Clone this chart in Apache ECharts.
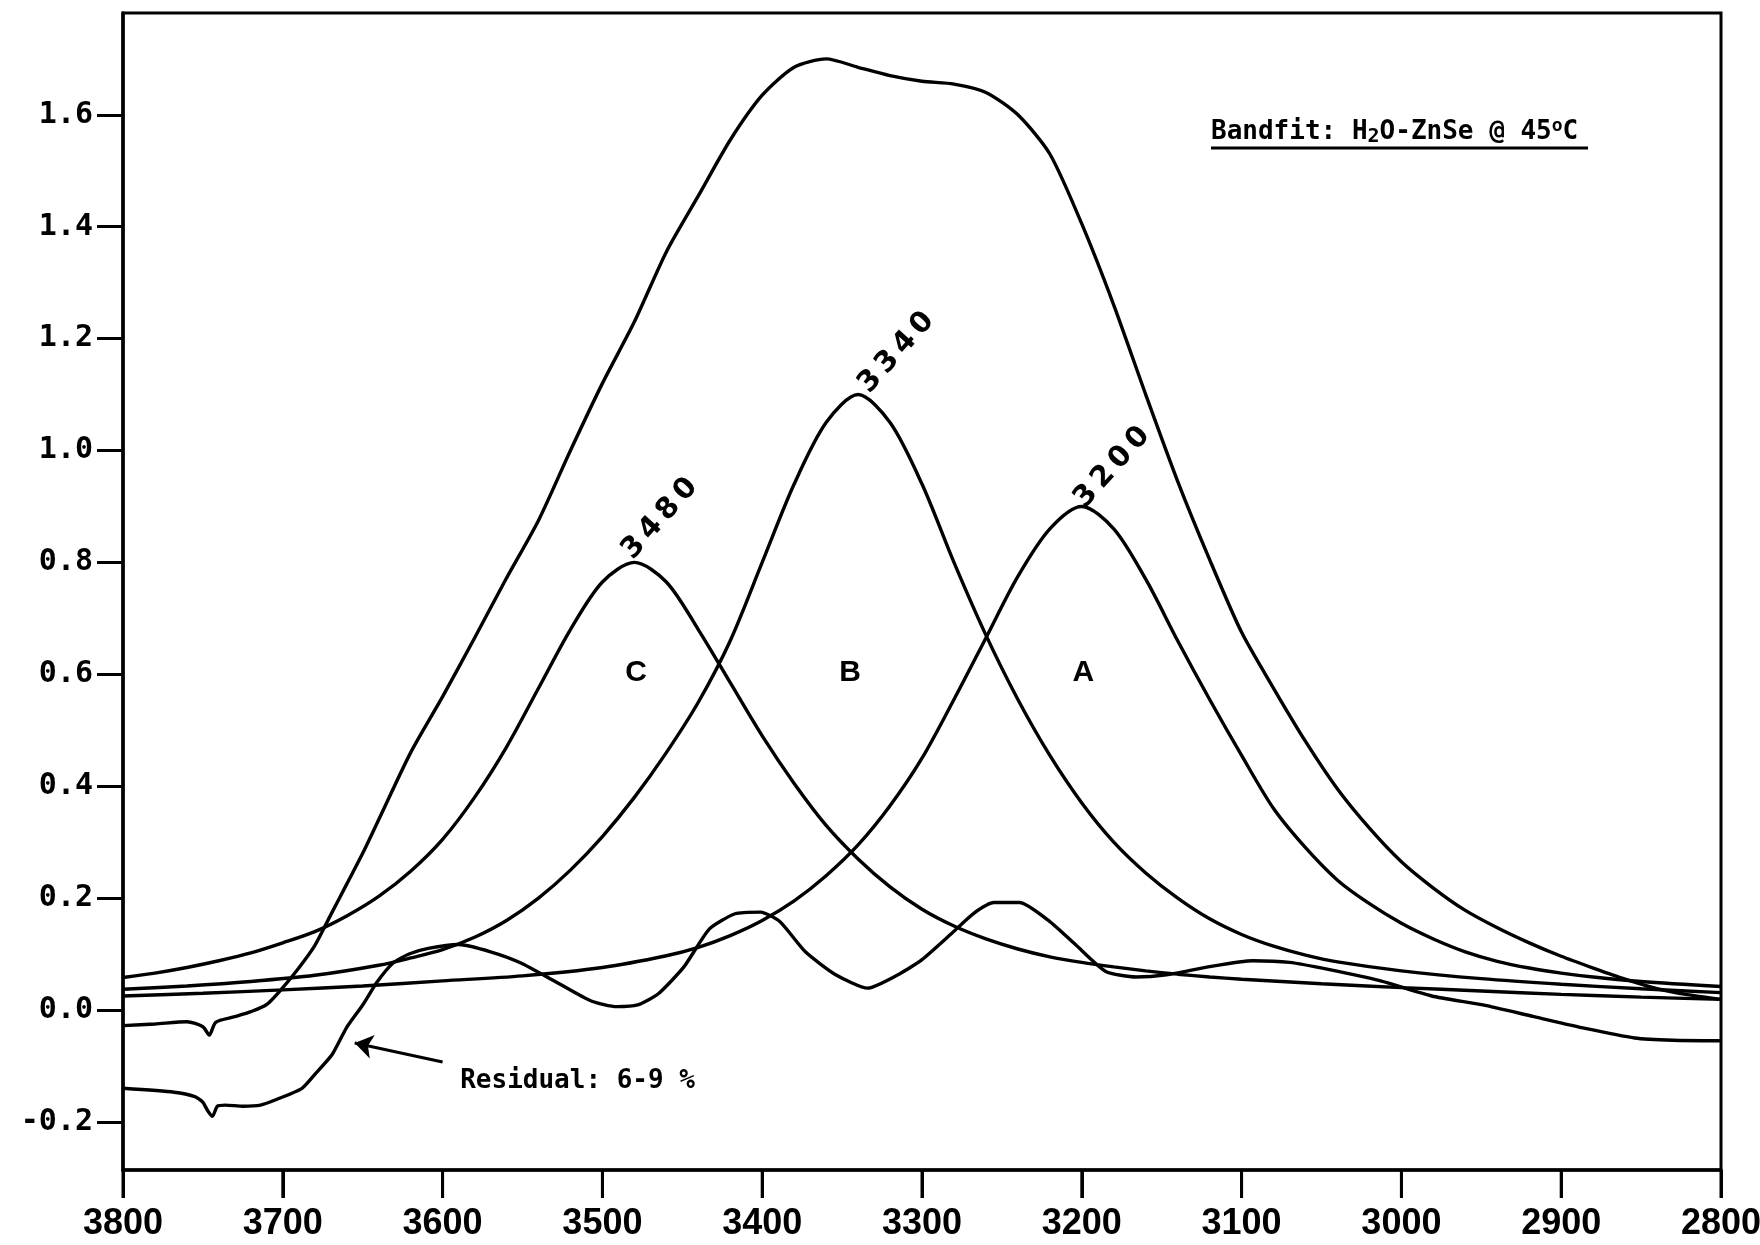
<!DOCTYPE html>
<html>
<head>
<meta charset="utf-8">
<script src="https://cdn.jsdelivr.net/npm/echarts@6/dist/echarts.min.js"></script>
<style>html,body{margin:0;padding:0;background:#fff}#chart{width:1760px;height:1245px}</style>
</head>
<body>
<div id="chart"></div>
<script>
// ---- axis ticks ----
const xTickValues = [3800, 3700, 3600, 3500, 3400, 3300, 3200, 3100, 3000, 2900, 2800];
const yTickValues = [-0.2, 0.0, 0.2, 0.4, 0.6, 0.8, 1.0, 1.2, 1.4, 1.6];
const yMin = -0.286, yMax = 1.782;

// ---- measured spectrum (total) ----
const totalX = [3800,3780,3760,3750,3746,3742,3730,3720,3710,3700,3690,3680,3670,3660,3650,3640,3620,3600,3580,3560,3540,3520,3500,3480,3460,3440,3420,3400,3380,3360,3340,3320,3300,3280,3260,3240,3220,3200,3180,3160,3140,3120,3100,3080,3060,3040,3020,3000,2980,2960,2940,2920,2900,2880,2860,2840,2820,2800];
const totalY = [-0.028,-0.025,-0.021,-0.03,-0.045,-0.022,-0.012,-0.003,0.01,0.04,0.075,0.115,0.17,0.225,0.28,0.34,0.46,0.56,0.665,0.772,0.875,1.0,1.12,1.23,1.355,1.455,1.555,1.635,1.685,1.70,1.685,1.67,1.66,1.655,1.64,1.60,1.53,1.405,1.26,1.10,0.945,0.805,0.675,0.575,0.48,0.395,0.325,0.265,0.218,0.178,0.147,0.12,0.096,0.075,0.055,0.038,0.027,0.019];

// ---- band C (3480) ----
const bandCX = [3800,3780,3760,3740,3720,3700,3680,3660,3640,3620,3600,3580,3560,3540,3520,3500,3480,3460,3440,3420,3400,3380,3360,3340,3320,3300,3280,3260,3240,3220,3200,3180,3160,3140,3120,3100,3050,3000,2950,2900,2850,2800];
const bandCY = [0.058,0.066,0.076,0.088,0.102,0.12,0.14,0.168,0.203,0.248,0.305,0.38,0.47,0.575,0.68,0.765,0.80,0.765,0.68,0.585,0.49,0.405,0.33,0.27,0.22,0.18,0.15,0.127,0.109,0.095,0.085,0.077,0.07,0.064,0.059,0.055,0.047,0.04,0.034,0.028,0.023,0.019];

// ---- band B (3340) ----
const bandBX = [3800,3760,3720,3680,3640,3620,3600,3580,3560,3540,3520,3500,3480,3460,3440,3420,3400,3380,3360,3340,3320,3300,3280,3260,3240,3220,3200,3180,3160,3140,3120,3100,3080,3060,3040,3000,2950,2900,2850,2800];
const bandBY = [0.037,0.043,0.051,0.062,0.08,0.093,0.108,0.13,0.16,0.20,0.25,0.31,0.38,0.46,0.55,0.66,0.80,0.94,1.05,1.10,1.05,0.94,0.80,0.67,0.555,0.455,0.37,0.30,0.245,0.20,0.163,0.135,0.114,0.098,0.086,0.07,0.056,0.046,0.038,0.031];

// ---- band A (3200) ----
const bandAX = [3800,3750,3700,3650,3600,3550,3500,3460,3440,3420,3400,3380,3360,3340,3320,3300,3280,3260,3240,3220,3200,3180,3160,3140,3120,3100,3080,3060,3040,3020,3000,2980,2960,2940,2920,2900,2880,2850,2800];
const bandAY = [0.025,0.03,0.036,0.043,0.052,0.061,0.076,0.097,0.112,0.133,0.16,0.195,0.24,0.295,0.365,0.45,0.555,0.665,0.775,0.86,0.90,0.86,0.77,0.66,0.555,0.455,0.36,0.29,0.232,0.19,0.155,0.127,0.104,0.087,0.075,0.066,0.059,0.051,0.042];

// ---- residual ----
const residX = [3800,3768,3755,3750,3747,3744,3741,3736,3725,3714,3704,3688,3679,3669,3660,3650,3641,3631,3621,3609,3590,3570,3551,3529,3507,3491,3478,3465,3449,3433,3417,3401,3389,3373,3354,3334,3315,3300,3281,3268,3255,3239,3220,3204,3185,3166,3147,3121,3093,3070,3045,3013,2981,2949,2917,2885,2854,2830,2800];
const residY = [-0.14,-0.147,-0.155,-0.165,-0.18,-0.19,-0.172,-0.17,-0.172,-0.17,-0.16,-0.14,-0.112,-0.079,-0.031,0.009,0.05,0.084,0.10,0.11,0.117,0.104,0.084,0.05,0.016,0.006,0.009,0.029,0.077,0.145,0.172,0.175,0.158,0.104,0.063,0.039,0.063,0.09,0.138,0.172,0.192,0.192,0.158,0.117,0.069,0.059,0.063,0.077,0.088,0.085,0.072,0.052,0.025,0.009,-0.012,-0.033,-0.05,-0.054,-0.055];

// ---- annotations ----
const peakLabels = ['3480', '3340', '3200'];
const peakLabelX = [3464, 3316, 3181];
const peakLabelY = [0.878, 1.175, 0.97];
const bandLetters = ['C', 'B', 'A'];
const bandLetterX = [3479, 3345, 3199];
const bandLetterY = [0.602, 0.602, 0.602];
const residualNote = 'Residual: 6-9 %';
const residualNotePos = [3589, -0.128];
const arrowFrom = [3600, -0.093];
const arrowTo = [3655, -0.059];
const titleText = 'Bandfit: H{sub|2}O-ZnSe @ 45{sup|o}C';

const zip = (xs, ys) => xs.map((x, i) => [x, ys[i]]);
const lineStyle = { color: '#000', width: 3.4 };

function curve(name, xs, ys, extra) {
  return Object.assign({
    name, type: 'line', data: zip(xs, ys), showSymbol: false, symbol: 'none',
    smooth: 0.3, lineStyle, itemStyle: { color: '#000' }, silent: true
  }, extra || {});
}

const chart = echarts.init(document.getElementById('chart'), null, { renderer: 'canvas' });
const monoBold = '"DejaVu Sans Mono"';
const labelBase = { color: '#000', opacity: 1, textBorderWidth: 0 };
const X_TICK_LEN = 28;

const titleGraphics = [
  {
    id: 'title', type: 'text', left: 1211, top: 117, silent: true,
    style: {
      text: titleText, fill: '#000', fontFamily: 'DejaVu Sans Mono', fontWeight: 'bold', fontSize: 26,
      rich: {
        sub: { fontFamily: 'DejaVu Sans Mono', fontWeight: 'bold', fontSize: 20, verticalAlign: 'bottom', padding: [10, 0, 0, 0], fill: '#000' },
        sup: { fontFamily: 'DejaVu Sans Mono', fontWeight: 'bold', fontSize: 18, verticalAlign: 'top', padding: [0, 0, 12, 0], fill: '#000' }
      }
    }
  },
  { id: 'underline', type: 'line', silent: true, shape: { x1: 1211, y1: 148, x2: 1588, y2: 148 }, style: { stroke: '#000', lineWidth: 3 } }
];

chart.setOption({
  animation: false,
  backgroundColor: '#fff',
  grid: { left: 123, right: 39, top: 13, bottom: 75, show: true, borderColor: '#000', borderWidth: 3, containLabel: false, outerBoundsMode: 'none' },
  xAxis: {
    type: 'value', min: 2800, max: 3800, interval: 100, inverse: true, position: 'bottom',
    axisLine: { show: true, onZero: false, lineStyle: { color: '#000', width: 3.5 } },
    axisTick: { show: true, inside: false, length: X_TICK_LEN, customValues: xTickValues, lineStyle: { color: '#000', width: 3 } },
    axisLabel: { show: true, margin: 36, customValues: xTickValues, color: '#000', fontFamily: '"Liberation Sans", sans-serif', fontWeight: 'bold', fontSize: 36, showMinLabel: true, showMaxLabel: true, formatter: v => String(v) },
    splitLine: { show: false }
  },
  yAxis: {
    type: 'value', min: yMin, max: yMax,
    axisLine: { show: true, onZero: false, lineStyle: { color: '#000', width: 3.5 } },
    axisTick: { show: true, inside: false, length: 26, customValues: yTickValues, lineStyle: { color: '#000', width: 3 } },
    axisLabel: { show: true, margin: 30, customValues: yTickValues, color: '#000', fontFamily: monoBold, fontWeight: 'bold', fontSize: 30, formatter: v => v.toFixed(1) },
    splitLine: { show: false }
  },
  graphic: titleGraphics,
  series: [
    curve('Measured', totalX, totalY, { smooth: 0.25 }),
    curve('Band C 3480', bandCX, bandCY),
    curve('Band B 3340', bandBX, bandBY),
    curve('Band A 3200', bandAX, bandAY),
    curve('Residual', residX, residY, {
      smooth: 0.2,
      markLine: {
        silent: true, symbol: ['none', 'arrow'], symbolSize: 18, animation: false,
        lineStyle: { color: '#000', width: 3, type: 'solid' }, label: { show: false },
        data: [[{ coord: arrowFrom }, { coord: arrowTo }]]
      }
    }),
    {
      name: 'peak labels', type: 'scatter', symbolSize: 0, silent: true, itemStyle: { opacity: 1 },
      data: peakLabels.map((t, i) => ({ name: t, value: [peakLabelX[i], peakLabelY[i]] })),
      label: Object.assign({ show: true, position: 'inside', rotate: 48, formatter: p => p.name.split('').join('\u2009'), fontFamily: 'DejaVu Sans', fontWeight: 'bold', fontSize: 29 }, labelBase)
    },
    {
      name: 'band letters', type: 'scatter', symbolSize: 0, silent: true, itemStyle: { opacity: 1 },
      data: bandLetters.map((t, i) => ({ name: t, value: [bandLetterX[i], bandLetterY[i]] })),
      label: Object.assign({ show: true, position: 'inside', formatter: '{b}', fontFamily: '"Liberation Sans", sans-serif', fontWeight: 'bold', fontSize: 30 }, labelBase)
    },
    {
      name: 'note', type: 'scatter', symbolSize: 0, silent: true, itemStyle: { opacity: 1 },
      data: [{ name: residualNote, value: residualNotePos }],
      label: Object.assign({ show: true, position: 'inside', align: 'left', verticalAlign: 'middle', formatter: '{b}', fontFamily: monoBold, fontWeight: 'bold', fontSize: 26 }, labelBase)
    }
  ]
});

// x-axis tick marks positioned through the axis scale, on a top canvas layer
const tickGraphics = xTickValues.map((v, i) => {
  const p = chart.convertToPixel({ xAxisIndex: 0, yAxisIndex: 0 }, [v, yMin]);
  return { id: 'xt' + i, type: 'line', z: 1000, zlevel: 5, silent: true,
    shape: { x1: p[0], y1: p[1], x2: p[0], y2: p[1] + X_TICK_LEN },
    style: { stroke: '#000', lineWidth: 3 } };
});
chart.setOption({ graphic: titleGraphics.concat(tickGraphics) });
</script>
</body>
</html>
